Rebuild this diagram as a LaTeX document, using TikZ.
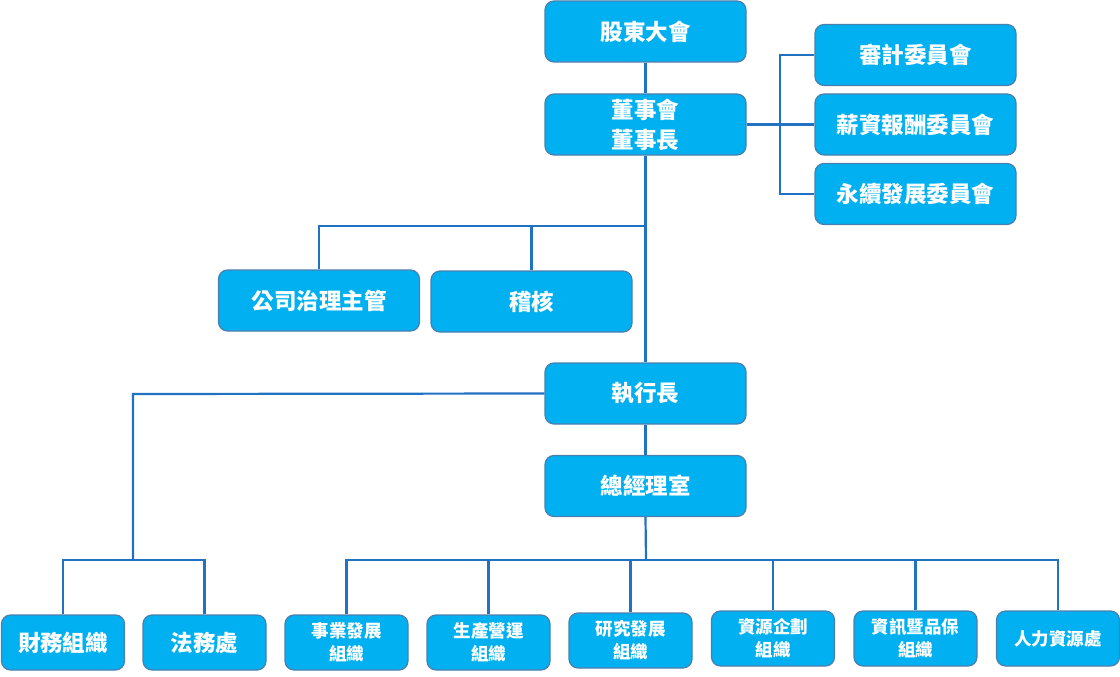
\documentclass[tikz,border=0pt]{standalone}
\usepackage{fontspec}
\setmainfont{Noto Sans CJK TC}
\definecolor{boxfill}{HTML}{00B0F0}
\definecolor{boxline}{HTML}{4A7FAE}
\definecolor{conn}{HTML}{2272C4}
\begin{document}
\begin{tikzpicture}[x=1pt,y=-1pt,
  bigbox/.style={draw=boxline,line width=1.2pt,fill=boxfill,rounded corners=9pt,
     minimum width=201pt,minimum height=61pt,text=white,align=center,
     font=\fontsize{22.5}{30}\selectfont\bfseries,inner sep=0pt},
  smallbox/.style={draw=boxline,line width=1.2pt,fill=boxfill,rounded corners=9pt,
     minimum width=123pt,minimum height=55pt,text=white,align=center,
     font=\fontsize{17.5}{23}\selectfont\bfseries,inner sep=0pt},
  link/.style={draw=conn,line width=2.2pt}]
\useasboundingbox (0,0) rectangle (1120,677);
% connectors first (behind boxes)
\coordinate (bra) at (780,124.5);
\coordinate (jx) at (646,226);
\coordinate (cl) at (133,394);
\coordinate (cd) at (133,560);
\coordinate (gj) at (646,560);
% top
\node[bigbox] (gd) at (645.5,31.5) {股東大會};
\node[bigbox] (bd) at (645.5,124.5) {董事會\\董事長};
\node[bigbox] (au) at (915.5,55) {審計委員會};
\node[bigbox] (pay) at (915.5,124.5) {薪資報酬委員會};
\node[bigbox] (sus) at (915.5,194) {永續發展委員會};
\node[bigbox] (cg) at (319,300.5) {公司治理主管};
\node[bigbox] (ia) at (531.5,301.5) {稽核};
\node[bigbox] (ceo) at (645.5,393.5) {執行長};
\node[bigbox] (gm) at (645.5,486) {總經理室};
% bottom
\node[smallbox,font=\fontsize{22.5}{30}\selectfont\bfseries] (fin) at (63,642.5) {財務組織};
\node[smallbox,font=\fontsize{22.5}{30}\selectfont\bfseries] (law) at (204.5,642.5) {法務處};
\node[smallbox] (bus) at (346.5,642.5) {事業發展\\組織};
\node[smallbox] (pro) at (488.5,642.5) {生產營運\\組織};
\node[smallbox] (rd) at (630.5,640.5) {研究發展\\組織};
\node[smallbox] (res) at (773,638.5) {資源企劃\\組織};
\node[smallbox] (it) at (915.5,638.5) {資訊暨品保\\組織};
\node[smallbox] (hr) at (1058,638.5) {人力資源處};
% connectors
\draw[link] (gd.south) -- (bd.north);
\draw[link] (bd.east) -- (bra);
\draw[link] (au.west) -| (bra) |- (sus.west);
\draw[link] (bra) -- (pay.west);
\draw[link] (bd.south) -- (ceo.north);
\draw[link] (cg.north) |- (jx);
\draw[link] (ia.north) -- (ia.north |- jx);
\draw[link] (ceo.west) -- (cl) -- (cd);
\draw[link] (fin.north) |- (cd) -| (law.north);
\draw[link] (ceo.south) -- (gm.north);
\draw[link] (gm.south) -- (gj);
\draw[link] (bus.north) |- (gj) -| (hr.north);
\draw[link] (pro.north) -- (pro.north |- gj);
\draw[link] (rd.north) -- (rd.north |- gj);
\draw[link] (res.north) -- (res.north |- gj);
\draw[link] (it.north) -- (it.north |- gj);
\end{tikzpicture}
\end{document}
